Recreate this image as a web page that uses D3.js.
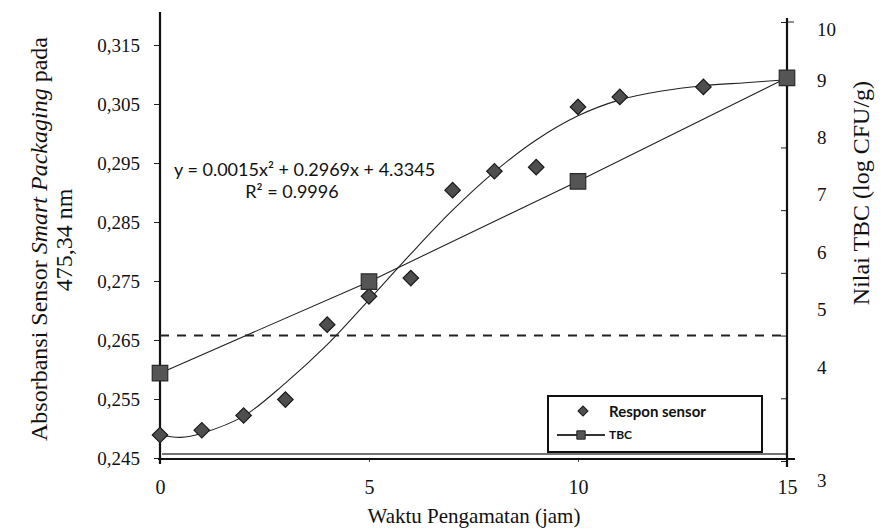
<!DOCTYPE html>
<html>
<head>
<meta charset="utf-8">
<script src="https://cdn.jsdelivr.net/npm/d3@7"></script>
<style>
  body { margin: 0; background: #fff; }
  svg { display: block; }
  .serif text, text.serif { font-family: "Liberation Serif", "Times New Roman", serif; }
</style>
</head>
<body>
<svg id="grafik" width="888" height="530"></svg>
<script>
// Data respon sensor (absorbansi) per jam pengamatan
const jamSensor = [0, 1, 2, 3, 4, 5, 6, 7, 8, 9, 10, 11, 13];
const absorbansi = [0.2489, 0.2497, 0.2522, 0.2549, 0.2676, 0.2724, 0.2755, 0.2904, 0.2936, 0.2943, 0.3045, 0.3062, 0.3079];

// Garis tren respon sensor
const jamTren = [0, 0.5, 1, 2, 3, 4, 5, 6, 7, 8, 9, 10, 11, 12, 13, 14, 15];
const nilaiTren = [0.2489, 0.2485, 0.2492, 0.2521, 0.2577, 0.2642, 0.2718, 0.2796, 0.2870, 0.2935, 0.2989, 0.3030, 0.3057, 0.3072, 0.3081, 0.3086, 0.3091];

// Data TBC (log CFU/g)
const jamTBC = [0, 5, 10, 15];
const nilaiTBC = [4.4, 5.86, 7.46, 9.11];
const batasTBC = 5;

// Label sumbu
const tickX = [0, 5, 10, 15];
const tickKiri = [0.245, 0.255, 0.265, 0.275, 0.285, 0.295, 0.305, 0.315];
const tickKanan = [3, 4, 5, 6, 7, 8, 9, 10];

const svg = d3.select("#grafik");
const sans = "Lato, 'Open Sans', sans-serif";

// Skala
const x = d3.scaleLinear().domain([0, 15]).range([160, 787]);
const yKiri = d3.scaleLinear().domain([0.245, 0.315]).range([458, 45]);
const yKanan = d3.scaleLinear().domain([3, 10]).range([461, 22]);
// label angka sumbu kanan di gambar asli tidak sejajar dengan tick-nya
const yLabelKanan = d3.scaleLinear().domain([3, 4, 9, 10]).range([480, 367, 80, 29]);

// Sumbu kiri
const axKiri = svg.append("g").attr("class", "serif")
    .attr("transform", `translate(${x(0)},0)`)
    .call(d3.axisLeft(yKiri).tickValues(tickKiri).tickSize(6).tickPadding(14)
        .tickFormat(d => d3.format(".3f")(d).replace(".", ",")));
axKiri.attr("font-family", null).attr("font-size", 19);
axKiri.select(".domain").remove();
axKiri.selectAll("text").attr("fill", "#111");
axKiri.selectAll("line").attr("stroke", "#222");

// Sumbu kanan (tick ke dalam, tanpa label)
const axKanan = svg.append("g")
    .attr("transform", `translate(${x(15)},0)`)
    .call(d3.axisRight(yKanan).tickValues(tickKanan).tickSizeInner(-6).tickSizeOuter(0).tickFormat(""));
axKanan.select(".domain").remove();
axKanan.selectAll("line").attr("stroke", "#222");

svg.append("g").attr("class", "serif").selectAll("text").data(tickKanan).enter().append("text")
    .attr("x", x(15) + 30).attr("y", d => yLabelKanan(d)).attr("dy", "0.35em")
    .attr("font-size", 19).attr("fill", "#111")
    .text(d => d3.format("d")(d));

// Sumbu x
const axX = svg.append("g").attr("class", "serif")
    .attr("transform", `translate(0,${yKiri(0.245)})`)
    .call(d3.axisBottom(x).tickValues(tickX).tickSize(4).tickPadding(18));
axX.attr("font-family", null).attr("font-size", 20);
axX.select(".domain").remove();
axX.selectAll("text").attr("fill", "#111");
axX.selectAll("line").attr("stroke", "#444");

// Garis bingkai (hasil pindaian: garis dobel di bawah)
svg.append("line").attr("x1", x(0) - 2).attr("x2", x(15) + 8)
    .attr("y1", yKiri(0.245) + 1).attr("y2", yKiri(0.245) + 1)
    .attr("stroke", "#111").attr("stroke-width", 2.2);
svg.append("line").attr("x1", x(0) + 2).attr("x2", x(15))
    .attr("y1", yKiri(0.245) - 4).attr("y2", yKiri(0.245) - 4)
    .attr("stroke", "#444").attr("stroke-width", 1.4);
svg.append("line").attr("x1", x(0)).attr("x2", x(0))
    .attr("y1", 12).attr("y2", yKiri(0.245) + 6)
    .attr("stroke", "#111").attr("stroke-width", 2.2);
svg.append("line").attr("x1", x(15)).attr("x2", x(15))
    .attr("y1", 18).attr("y2", yKiri(0.245) + 9)
    .attr("stroke", "#111").attr("stroke-width", 2.2);
svg.append("line").attr("x1", x(15)).attr("x2", x(15) + 7)
    .attr("y1", yKanan(10)).attr("y2", yKanan(10))
    .attr("stroke", "#222").attr("stroke-width", 1);

// Garis batas TBC (putus-putus)
svg.append("line").attr("x1", x(0)).attr("x2", x(15))
    .attr("y1", yKanan(batasTBC)).attr("y2", yKanan(batasTBC))
    .attr("stroke", "#222").attr("stroke-width", 2).attr("stroke-dasharray", "9,8");

// Garis TBC
const tbc = jamTBC.map((j, i) => ({ j, v: nilaiTBC[i] }));
svg.append("path").datum(tbc)
    .attr("fill", "none").attr("stroke", "#222").attr("stroke-width", 1.1)
    .attr("d", d3.line().x(d => x(d.j)).y(d => yKanan(d.v)));

// Garis tren sensor
const tren = jamTren.map((j, i) => ({ j, v: nilaiTren[i] }));
svg.append("path").datum(tren)
    .attr("fill", "none").attr("stroke", "#222").attr("stroke-width", 1.1)
    .attr("d", d3.line().curve(d3.curveCatmullRom.alpha(0.5)).x(d => x(d.j)).y(d => yKiri(d.v)));

// Titik sensor (belah ketupat)
const titik = jamSensor.map((j, i) => ({ j, v: absorbansi[i] }));
svg.selectAll(".belah").data(titik).enter().append("path")
    .attr("class", "belah")
    .attr("d", d3.symbol().type(d3.symbolSquare).size(120))
    .attr("transform", d => `translate(${x(d.j)},${yKiri(d.v)}) rotate(45)`)
    .attr("fill", "#4e4e4e").attr("stroke", "#1a1a1a").attr("stroke-width", 1.2);

// Titik TBC (kotak)
svg.selectAll(".kotak").data(tbc).enter().append("path")
    .attr("class", "kotak")
    .attr("d", d3.symbol().type(d3.symbolSquare).size(240))
    .attr("transform", d => `translate(${x(d.j)},${yKanan(d.v)})`)
    .attr("fill", "#555").attr("stroke", "#2a2a2a").attr("stroke-width", 1.2);

// Persamaan regresi
svg.append("text").attr("x", 174).attr("y", 176)
    .style("font-family", sans).style("font-size", "18px").attr("fill", "#111")
    .text("y = 0.0015x² + 0.2969x + 4.3345");
svg.append("text").attr("x", 292).attr("y", 198).attr("text-anchor", "middle")
    .style("font-family", sans).style("font-size", "18px").attr("fill", "#111")
    .text("R² = 0.9996");

// Legenda
const leg = svg.append("g");
leg.append("rect").attr("x", 548).attr("y", 396).attr("width", 214).attr("height", 56)
    .attr("fill", "#fff").attr("stroke", "#111").attr("stroke-width", 2);
leg.append("path").attr("d", d3.symbol().type(d3.symbolSquare).size(50))
    .attr("transform", "translate(583,411) rotate(45)")
    .attr("fill", "#4e4e4e").attr("stroke", "#1a1a1a");
leg.append("text").attr("x", 609).attr("y", 417)
    .style("font-family", sans).style("font-size", "15px").style("font-weight", "bold").attr("fill", "#111")
    .text("Respon sensor");
leg.append("line").attr("x1", 557).attr("x2", 605).attr("y1", 435).attr("y2", 435)
    .attr("stroke", "#333").attr("stroke-width", 2);
leg.append("path").attr("d", d3.symbol().type(d3.symbolSquare).size(70))
    .attr("transform", "translate(581,435)")
    .attr("fill", "#555").attr("stroke", "#222");
leg.append("text").attr("x", 609).attr("y", 439)
    .style("font-family", sans).style("font-size", "12px").style("font-weight", "bold").attr("fill", "#111")
    .text("TBC");

// Judul sumbu
svg.append("text").attr("class", "serif").attr("x", 474).attr("y", 523).attr("text-anchor", "middle")
    .attr("font-size", 21).attr("fill", "#111")
    .text("Waktu Pengamatan (jam)");

const judulKiri = svg.append("text").attr("class", "serif")
    .attr("transform", "translate(47,239) rotate(-90)").attr("text-anchor", "middle")
    .attr("font-size", 24).attr("fill", "#111");
judulKiri.append("tspan").text("Absorbansi Sensor ");
judulKiri.append("tspan").attr("font-style", "italic").text("Smart Packaging");
judulKiri.append("tspan").text(" pada");
svg.append("text").attr("class", "serif")
    .attr("transform", "translate(72,240) rotate(-90)").attr("text-anchor", "middle")
    .attr("font-size", 24).attr("fill", "#111")
    .text("475,34 nm");

svg.append("text").attr("class", "serif")
    .attr("transform", "translate(869,193) rotate(-90)").attr("text-anchor", "middle")
    .attr("font-size", 24).attr("fill", "#111")
    .text("Nilai TBC (log CFU/g)");
</script>
</body>
</html>
